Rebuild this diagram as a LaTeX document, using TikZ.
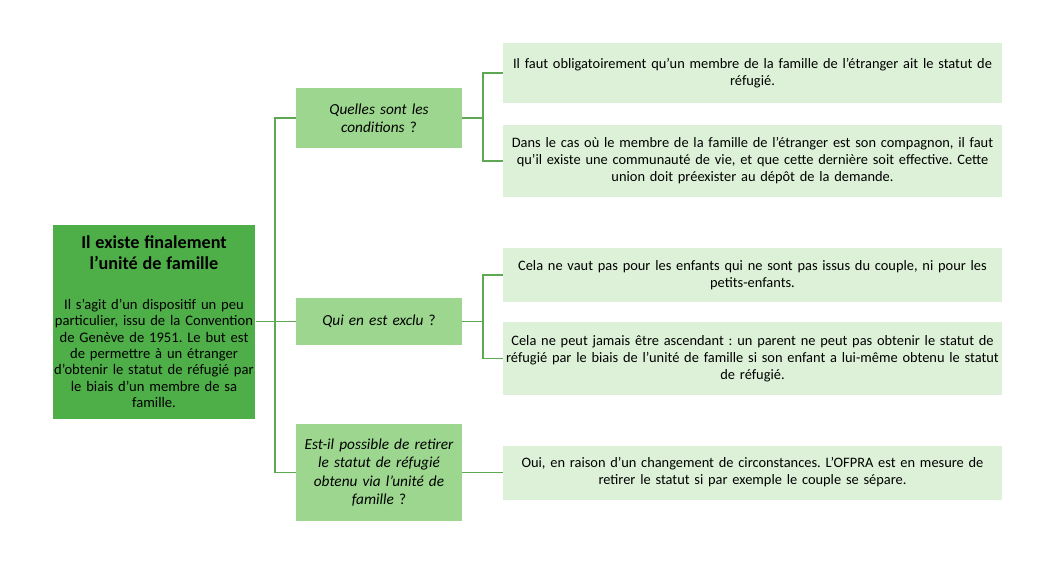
\documentclass[tikz,border=0pt]{standalone}
\usepackage{fontspec}
\setmainfont{Carlito}
\usepackage{xcolor}
\usetikzlibrary{positioning,calc}
\definecolor{maingreen}{HTML}{4EAF48}
\definecolor{midgreen}{HTML}{9DD78F}
\definecolor{palegreen}{HTML}{DCF1D7}
\definecolor{linkgreen}{HTML}{5FA853}
\newcommand{\keeplines}{\frenchspacing\hyphenpenalty=10000\exhyphenpenalty=10000}
\tikzset{
  topicbox/.style={draw=white, line width=0.8pt, fill=maingreen, align=center, text width=203pt, minimum width=202pt, minimum height=195pt, inner sep=0pt, font=\fontsize{14.6}{16.3}\selectfont\keeplines},
  questionbox/.style={draw=none, fill=midgreen, align=center, text width=162pt, minimum width=166pt, inner sep=2pt, font=\fontsize{15.3}{18.3}\selectfont\itshape\keeplines},
  answerbox/.style={draw=none, fill=palegreen, align=center, text width=497pt, minimum width=499pt, inner sep=1pt, font=\fontsize{14.4}{17}\selectfont\keeplines},
  link/.style={draw=linkgreen, line width=1.4pt}
}
\begin{document}
\begin{tikzpicture}[x=1pt, y=-1pt]
  \useasboundingbox[fill=white] (0,0) rectangle (1051,562);
  % left topic
  \node[topicbox] (topic) at (154,321.5) {{\fontsize{18.2}{21}\selectfont\bfseries Il existe finalement\\l’unité de famille\par}\vspace{24pt}Il s’agit d’un dispositif un peu\\particulier, issu de la Convention\\de Genève de 1951. Le but est\\de permettre à un étranger\\d’obtenir le statut de réfugié par\\le biais d’un membre de sa\\famille.};
  % questions
  \node[questionbox, minimum height=60pt] (cond) at (379,118) {Quelles sont les\\conditions {\upshape ?}};
  \node[questionbox, minimum height=47pt] (excl) at (379,321.5) {Qui en est exclu {\upshape ?}};
  \node[questionbox, minimum height=97pt] (retr) at (379,472.5) {Est-il possible de retirer\\le statut de réfugié\\obtenu via l’unité de\\famille {\upshape ?}};
  % answers
  \node[answerbox, minimum height=60pt] (oblig) at (752.5,73) {Il faut obligatoirement qu’un membre de la famille de l’étranger ait le statut de\\réfugié.};
  \node[answerbox, minimum height=72pt] (vie) at (752.5,161) {Dans le cas où le membre de la famille de l’étranger est son compagnon, il faut\\qu’il existe une communauté de vie, et que cette dernière soit effective. Cette\\union doit préexister au dépôt de la demande.};
  \node[answerbox, minimum height=54pt] (enf) at (752.5,275) {Cela ne vaut pas pour les enfants qui ne sont pas issus du couple, ni pour les\\petits-enfants.};
  \node[answerbox, minimum height=73pt] (asc) at (752.5,358.5) {Cela ne peut jamais être ascendant : un parent ne peut pas obtenir le statut de\\réfugié par le biais de l’unité de famille si son enfant a lui-même obtenu le statut\\de réfugié.};
  \node[answerbox, minimum height=54pt] (ofpra) at (752.5,472.5) {Oui, en raison d’un changement de circonstances. L’OFPRA est en mesure de\\retirer le statut si par exemple le couple se sépare.};
  % connectors
  \coordinate (trunk) at (275,0);
  \coordinate (fork) at (483,0);
  \draw[link] (topic.east) -- (topic.east -| trunk);
  \draw[link] (cond.west) -- (cond.west -| trunk) -- (retr.west -| trunk) -- (retr.west);
  \draw[link] (excl.west) -- (excl.west -| trunk);
  \foreach \q/\a/\b in {cond/oblig/vie, excl/enf/asc} {
    \draw[link] (\q.east) -- (\q.east -| fork);
    \draw[link] (\a.west) -- (\a.west -| fork) -- (\b.west -| fork) -- (\b.west);
  }
  \draw[link] (retr.east) -- (ofpra.west);
\end{tikzpicture}
\end{document}
